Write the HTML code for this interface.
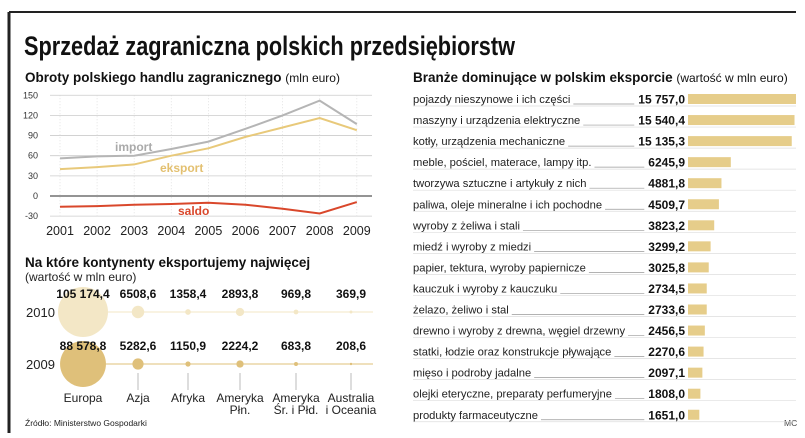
<!DOCTYPE html>
<html><head><meta charset="utf-8"><style>
body{margin:0;background:#fff;width:805px;height:433px;overflow:hidden;font-family:"Liberation Sans",sans-serif}
svg text{font-family:"Liberation Sans",sans-serif}
</style></head><body>
<svg id="c" width="805" height="433">
<line x1="9" y1="12" x2="796" y2="12" stroke="#222" stroke-width="2"/>
<line x1="9" y1="12" x2="9" y2="433" stroke="#222" stroke-width="3"/>
<text x="24" y="55" font-size="27" font-weight="bold" fill="#111" textLength="491" lengthAdjust="spacingAndGlyphs">Sprzedaż zagraniczna polskich przedsiębiorstw</text>
<text x="25" y="82" font-size="13.5" font-weight="bold" fill="#111">Obroty polskiego handlu zagranicznego <tspan font-weight="normal" font-size="12">(mln euro)</tspan></text>
<text x="413" y="82" font-size="13.5" font-weight="bold" fill="#111">Branże dominujące w polskim eksporcie <tspan font-weight="normal" font-size="12">(wartość w mln euro)</tspan></text>
<text x="25" y="267" font-size="13.5" font-weight="bold" fill="#111">Na które kontynenty eksportujemy najwięcej</text>
<text x="25" y="281" font-size="12" fill="#222">(wartość w mln euro)</text>
<text x="25" y="426" font-size="8.5" fill="#222">Źródło: Ministerstwo Gospodarki</text>
<text x="784" y="426" font-size="8.5" fill="#444">MC</text>
<g id="line"></g><g id="bub"></g><g id="bars"></g>
</svg>
<script>
const years=["2001","2002","2003","2004","2005","2006","2007","2008","2009"];
const yTicks=[150,120,90,60,30,0,-30];
const importVals=[56,59,60,70,81,100,120,142,107];
const eksportVals=[40,43,47,60,71,88,102,116,98];
const saldoVals=[-16,-15,-13,-12,-10,-13,-19,-26,-9];

const contNames=[["Europa"],["Azja"],["Afryka"],["Ameryka","Płn."],["Ameryka","Śr. i Płd."],["Australia","i Oceania"]];
const vals2010=[105174.4,6508.6,1358.4,2893.8,969.8,369.9];
const vals2009=[88578.8,5282.6,1150.9,2224.2,683.8,208.6];
const labels2010=["105 174,4","6508,6","1358,4","2893,8","969,8","369,9"];
const labels2009=["88 578,8","5282,6","1150,9","2224,2","683,8","208,6"];

const industries=["pojazdy nieszynowe i ich części","maszyny i urządzenia elektryczne","kotły, urządzenia mechaniczne","meble, pościel, materace, lampy itp.","tworzywa sztuczne i artykuły z nich","paliwa, oleje mineralne i ich pochodne","wyroby z żeliwa i stali","miedź i wyroby z miedzi","papier, tektura, wyroby papiernicze","kauczuk i wyroby z kauczuku","żelazo, żeliwo i stal","drewno i wyroby z drewna, węgiel drzewny","statki, łodzie oraz konstrukcje pływające","mięso i podroby jadalne","olejki eteryczne, preparaty perfumeryjne","produkty farmaceutyczne"];
const industryVals=[15757.0,15540.4,15135.3,6245.9,4881.8,4509.7,3823.2,3299.2,3025.8,2734.5,2733.6,2456.5,2270.6,2097.1,1808.0,1651.0];
const industryLabels=["15 757,0","15 540,4","15 135,3","6245,9","4881,8","4509,7","3823,2","3299,2","3025,8","2734,5","2733,6","2456,5","2270,6","2097,1","1808,0","1651,0"];

const NS="http://www.w3.org/2000/svg";
function mk(p,t,a,txt){const e=document.createElementNS(NS,t);for(const k in a)e.setAttribute(k,a[k]);if(txt!=null)e.textContent=txt;p.appendChild(e);return e;}

const L=document.getElementById('line');
const xs=i=>60+i*37.1, ys=v=>196-(v/30)*20.15;
yTicks.forEach(t=>{
 const g=mk(L,'line',{x1:50,x2:372,y1:ys(t),y2:ys(t),stroke:t===0?'#555':'#ccc','stroke-width':t===0?1.2:0.8});
 
 
 const tx=mk(L,'text',{x:38,y:ys(t)+3,'font-size':9,'text-anchor':'end',fill:'#333'},String(t));
 
 
});
years.forEach((y,i)=>{
 const v=mk(L,'line',{x1:xs(i),x2:xs(i),y1:ys(150),y2:ys(-30),stroke:'#ddd','stroke-width':0.8,'stroke-dasharray':'1,2'});
 
 
 const t=mk(L,'text',{x:xs(i),y:235,'font-size':12.5,'text-anchor':'middle',fill:'#222'},y);
 
 
});
function series(vals,color,name){
 const p=mk(L,'polyline',{points:vals.map((v,i)=>xs(i)+','+ys(v)).join(' '),fill:'none',stroke:color,'stroke-width':2});
 
 
}
series(importVals,'#b5b5b5','import-line');
series(eksportVals,'#e8c97a','eksport-line');
series(saldoVals,'#d9472b','saldo-line');
[['import',115,151,'#aaa'],['eksport',160,172,'#e3c070'],['saldo',178,215,'#d9472b']].forEach(a=>{
 const t=mk(L,'text',{x:a[1],y:a[2],'font-size':12,'font-weight':'bold',fill:a[3]},a[0]);
 
 
});

const B=document.getElementById('bub');
const bx=[83,138,188,240,296,351];
const rad=v=>25*Math.sqrt(v/105174.4);
[[312,vals2010,labels2010,'#f3e7c6','2010',298],[364,vals2009,labels2009,'#dfc07a','2009',350]].forEach(r=>{
 const ln=mk(B,'line',{x1:83,x2:373,y1:r[0],y2:r[0],stroke:r[3],'stroke-width':1});
 
 
 const yl=mk(B,'text',{x:26,y:r[0]+5,'font-size':13,fill:'#222'},r[4]);
 
 
 r[1].forEach((v,i)=>{
  const c=mk(B,'circle',{cx:bx[i],cy:r[0],r:Math.max(1.2,rad(v)),fill:r[3]});
  
  
  const t=mk(B,'text',{x:bx[i],y:r[5],'font-size':12,'font-weight':'bold','text-anchor':'middle',fill:'#111'},r[2][i]);
  
  
 });
});
contNames.forEach((n,i)=>{
 if(i>0){const a=mk(B,'line',{x1:bx[i],x2:bx[i],y1:373,y2:390,stroke:'#bbb','stroke-width':1});
 
 }
 n.forEach((s,j)=>{
  const t=mk(B,'text',{x:bx[i],y:402+j*12,'font-size':12,'text-anchor':'middle',fill:'#222'},s);
  
  
 });
});

const R=document.getElementById('bars');
const bw=v=>v/15757*108;
industries.forEach((s,i)=>{
 const cy=99+i*21.05;
 const base=mk(R,'line',{x1:413,x2:796,y1:cy+7,y2:cy+7,stroke:'#ddd','stroke-width':0.7});
 
 
 const t=mk(R,'text',{x:413,y:cy+4,'font-size':11.2,fill:'#222'},s);
 
 
 const w=t.getComputedTextLength();
 const v=mk(R,'text',{x:685,y:cy+4.5,'font-size':12,'font-weight':'bold','text-anchor':'end',fill:'#111'},industryLabels[i]);
 
 
 const vw=v.getComputedTextLength();
 const lead=mk(R,'line',{x1:413+w+3,x2:685-vw-4,y1:cy+5,y2:cy+5,stroke:'#999','stroke-width':0.7});
 
 
 const b=mk(R,'rect',{x:688,y:cy-5,width:bw(industryVals[i]),height:10,fill:'#e6cd8a'});
 
 
});
</script>
</body></html>
